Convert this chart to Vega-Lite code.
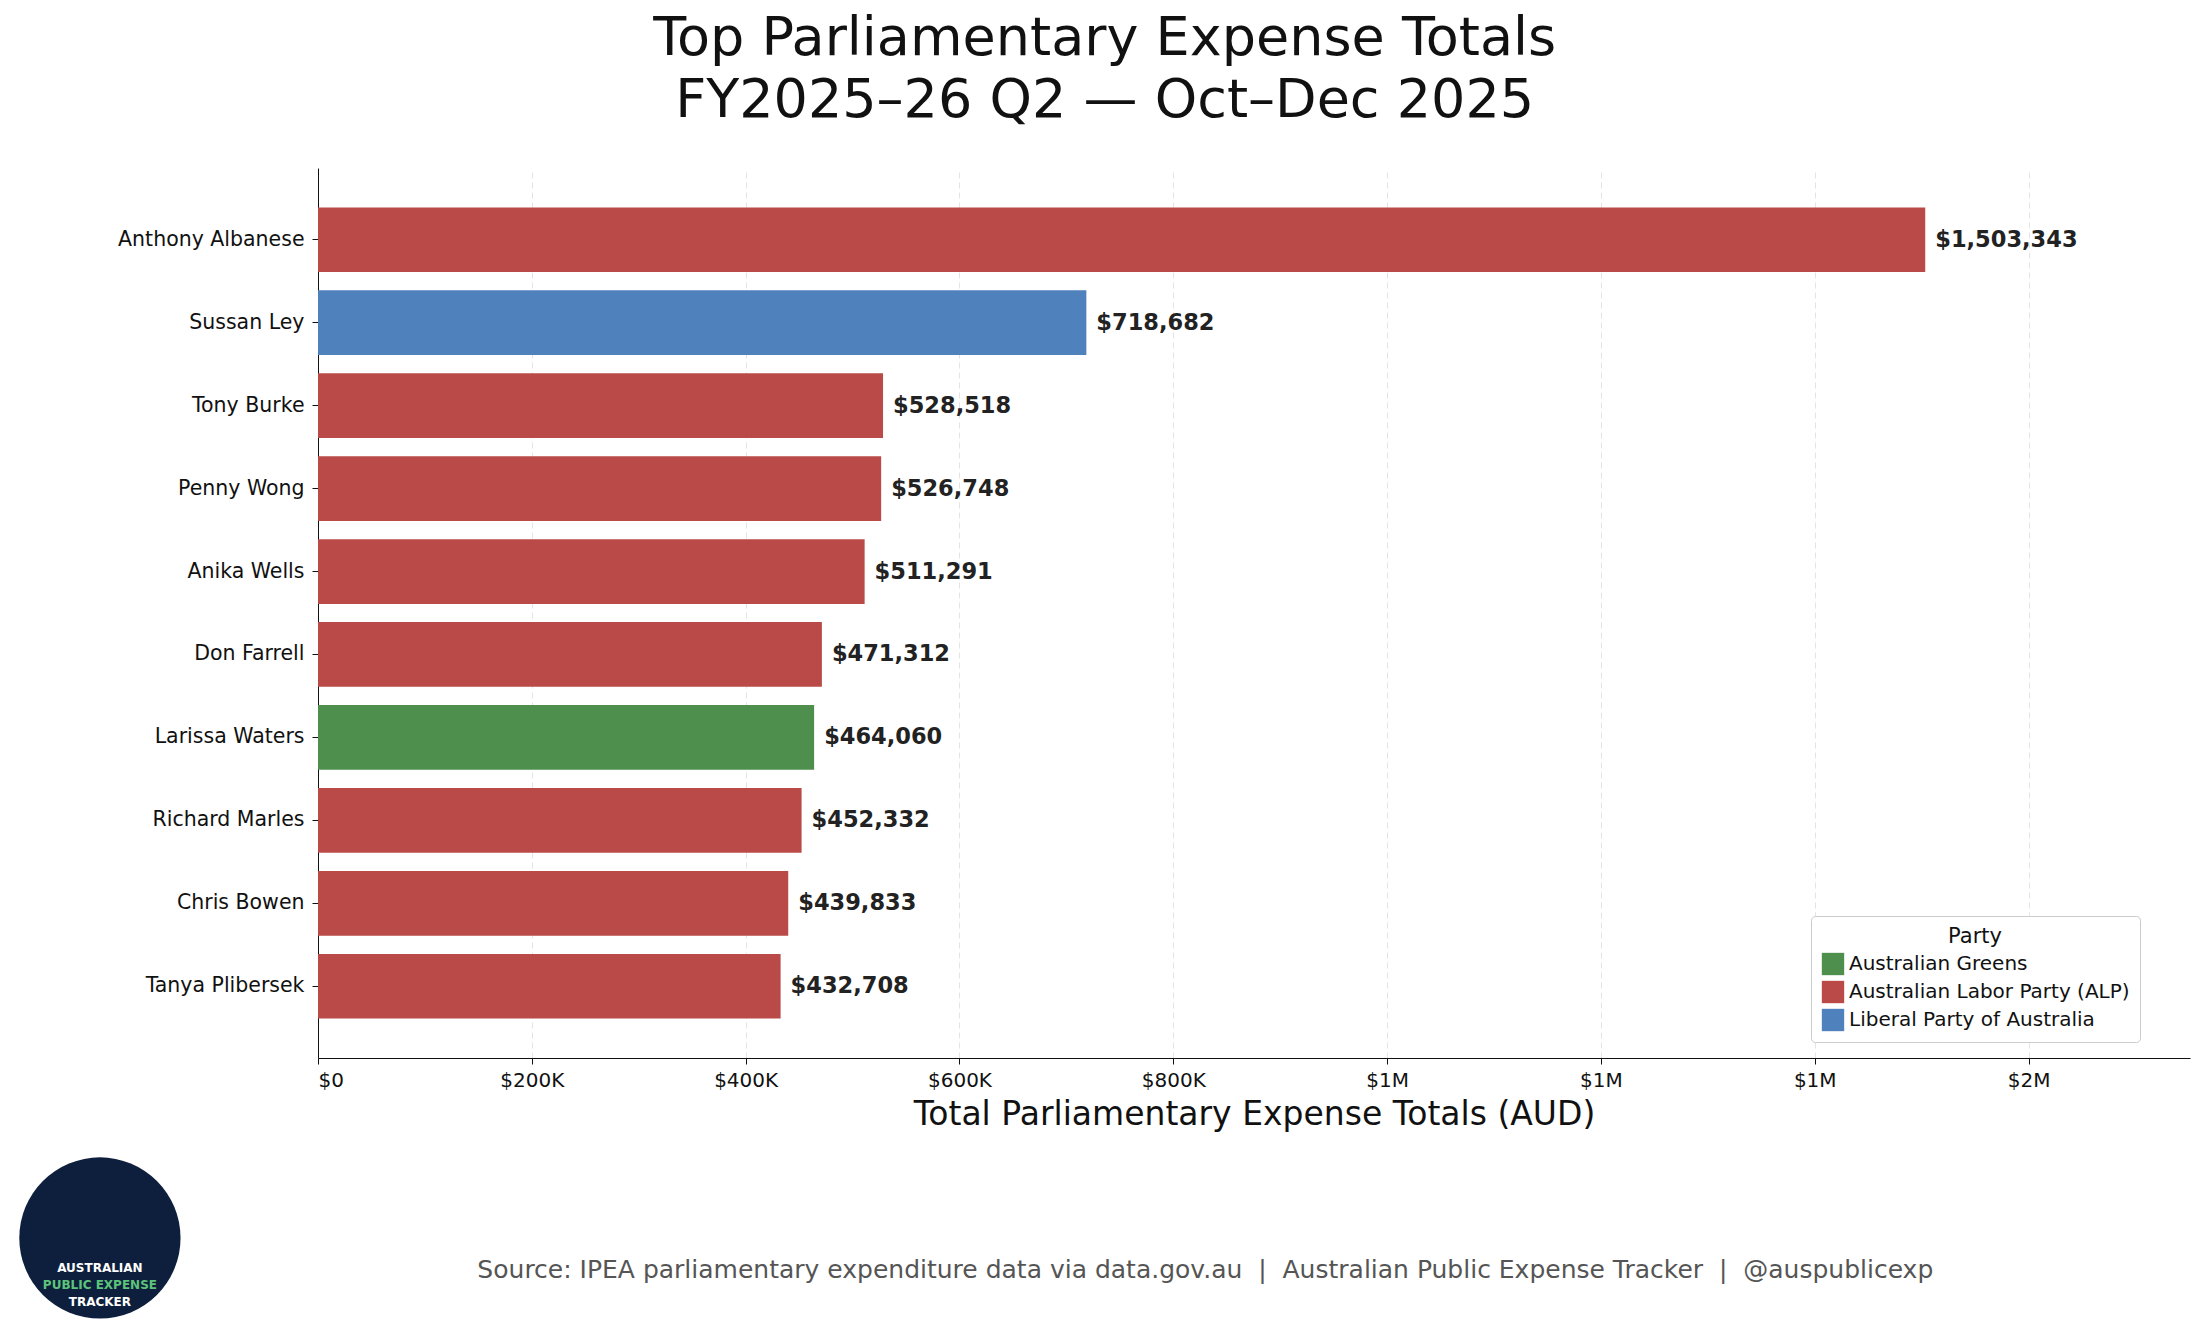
{
  "$schema": "https://vega.github.io/schema/vega-lite/v6.json",
  "background": "white",
  "padding": {"left": 19, "top": 12, "right": 14, "bottom": 0},
  "title": {
    "text": ["Top Parliamentary Expense Totals", "FY2025–26 Q2 — Oct–Dec 2025"],
    "fontSize": 54, "font": "DejaVu Sans", "fontWeight": "normal", "anchor": "middle",
    "lineHeight": 62, "offset": 40, "color": "#111"
  },
  "vconcat": [
    {
      "width": 1872,
      "height": 890,
      "data": {"values": [
        {"name": "Anthony Albanese", "party": "Australian Labor Party (ALP)", "total": 1503343},
        {"name": "Sussan Ley", "party": "Liberal Party of Australia", "total": 718682},
        {"name": "Tony Burke", "party": "Australian Labor Party (ALP)", "total": 528518},
        {"name": "Penny Wong", "party": "Australian Labor Party (ALP)", "total": 526748},
        {"name": "Anika Wells", "party": "Australian Labor Party (ALP)", "total": 511291},
        {"name": "Don Farrell", "party": "Australian Labor Party (ALP)", "total": 471312},
        {"name": "Larissa Waters", "party": "Australian Greens", "total": 464060},
        {"name": "Richard Marles", "party": "Australian Labor Party (ALP)", "total": 452332},
        {"name": "Chris Bowen", "party": "Australian Labor Party (ALP)", "total": 439833},
        {"name": "Tanya Plibersek", "party": "Australian Labor Party (ALP)", "total": 432708}
      ]},
      "encoding": {
        "y": {"field": "name", "type": "nominal", "sort": null,
          "scale": {"paddingInner": 0.22, "paddingOuter": 0.475},
          "axis": {"title": null, "labelFontSize": 20.5, "labelFont": "DejaVu Sans", "labelColor": "#111", "labelLimit": 0,
            "domainColor": "#111", "tickColor": "#111", "labelPadding": 8, "tickSize": 6}},
        "x": {"field": "total", "type": "quantitative",
          "scale": {"domain": [0, 1751000], "nice": false},
          "axis": {"values": [0, 200000, 400000, 600000, 800000, 1000000, 1200000, 1400000, 1600000],
            "labelExpr": "datum.value == 0 ? '$0' : datum.value < 1000000 ? '$' + format(datum.value/1000, '.0f') + 'K' : '$' + format(datum.value/1000000, '.0f') + 'M'",
            "title": "Total Parliamentary Expense Totals (AUD)", "titleFontSize": 33, "titleFontWeight": "normal",
            "titleFont": "DejaVu Sans", "titleColor": "#111", "titlePadding": 8,
            "labelFontSize": 20, "labelFont": "DejaVu Sans", "labelColor": "#111", "labelPadding": 6,
            "domainColor": "#111", "tickColor": "#111", "tickSize": 6,
            "grid": true, "gridDash": [6, 4], "gridColor": "#ddd", "gridOpacity": 0.8}}
      },
      "layer": [
        {
          "mark": {"type": "bar"},
          "encoding": {
            "color": {"field": "party", "type": "nominal",
              "scale": {"domain": ["Australian Greens", "Australian Labor Party (ALP)", "Liberal Party of Australia"],
                "range": ["#4e8f4e", "#b94a48", "#4f81bd"]},
              "legend": {"title": "Party", "orient": "none", "legendX": 1493, "legendY": 748,
                "titleFontSize": 21, "titleFontWeight": "normal", "labelLimit": 0,
                "labelFontSize": 20, "titleAnchor": "middle", "symbolType": "square", "symbolSize": 500,
                "strokeColor": "#ccc", "fillColor": "white", "padding": 10, "cornerRadius": 4, "rowPadding": 4,
                "labelFont": "DejaVu Sans", "titleFont": "DejaVu Sans", "titleColor": "#111", "labelColor": "#111"}}
          }
        },
        {
          "mark": {"type": "text", "align": "left", "dx": 10, "fontSize": 22.5, "fontWeight": "bold", "font": "DejaVu Sans", "color": "#222"},
          "encoding": {"text": {"field": "total", "type": "quantitative", "format": "$,.0f"}}
        }
      ]
    },
    {
      "width": 1872,
      "height": 211,
      "data": {"values": [
        {"item": "source", "label": "Source: IPEA parliamentary expenditure data via data.gov.au\u00a0\u00a0|\u00a0\u00a0Australian Public Expense Tracker\u00a0\u00a0|\u00a0\u00a0@auspublicexp"}
      ]},
      "layer": [
        {
          "mark": {"type": "point", "filled": true, "shape": "circle", "size": 26000, "color": "#0d1f3c", "opacity": 1},
          "encoding": {
            "x": {"datum": -0.1165, "type": "quantitative", "scale": {"domain": [0, 1]}, "axis": null},
            "y": {"datum": 0.493, "type": "quantitative", "scale": {"domain": [0, 1]}, "axis": null}
          }
        },
        {
          "mark": {"type": "text", "fontSize": 12, "fontWeight": "bold", "color": "white", "font": "DejaVu Sans"},
          "encoding": {
            "text": {"value": "AUSTRALIAN"},
            "x": {"datum": -0.1165, "type": "quantitative"},
            "y": {"datum": 0.351, "type": "quantitative"}
          }
        },
        {
          "mark": {"type": "text", "fontSize": 12, "fontWeight": "bold", "color": "#5cc47a", "font": "DejaVu Sans"},
          "encoding": {
            "text": {"value": "PUBLIC EXPENSE"},
            "x": {"datum": -0.1165, "type": "quantitative"},
            "y": {"datum": 0.27, "type": "quantitative"}
          }
        },
        {
          "mark": {"type": "text", "fontSize": 12, "fontWeight": "bold", "color": "white", "font": "DejaVu Sans"},
          "encoding": {
            "text": {"value": "TRACKER"},
            "x": {"datum": -0.1165, "type": "quantitative"},
            "y": {"datum": 0.19, "type": "quantitative"}
          }
        },
        {
          "mark": {"type": "text", "fontSize": 25, "color": "#555", "font": "DejaVu Sans"},
          "encoding": {
            "text": {"field": "label"},
            "x": {"datum": 0.474, "type": "quantitative"},
            "y": {"datum": 0.341, "type": "quantitative"}
          }
        }
      ]
    }
  ],
  "config": {"view": {"stroke": null}, "concat": {"spacing": 0}, "bounds": "flush"}
}
